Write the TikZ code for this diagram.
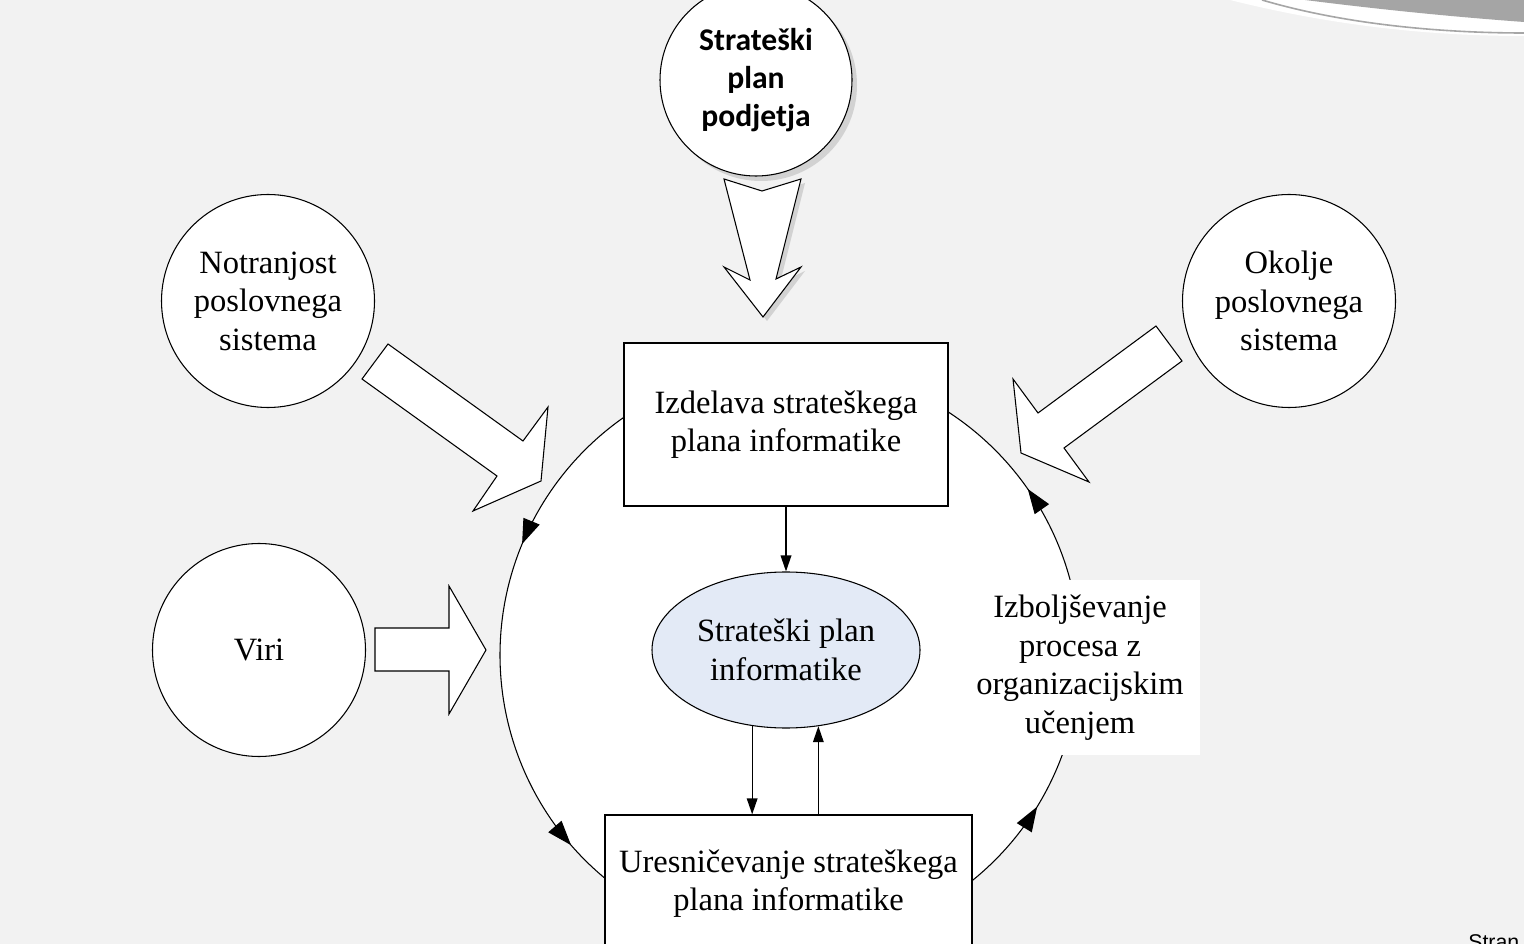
\documentclass[tikz,border=0pt]{standalone}
\usepackage{fontspec}
\setmainfont{Liberation Serif}
\newfontfamily\calfont{Carlito}
\newfontfamily\arialfont{Liberation Sans}
\usetikzlibrary{shapes.geometric,arrows.meta,decorations.markings,calc}
\definecolor{bg}{RGB}{242,242,242}
\definecolor{ellfill}{RGB}{227,234,246}
\definecolor{swoosh}{RGB}{165,165,165}
\tikzset{cychead/.tip={Triangle[length=18.5pt,width=13pt]}}
\begin{document}
\begin{tikzpicture}[x=0.75pt,y=-0.75pt,
  txt/.style={font=\fontsize{24.4}{28.9}\selectfont, align=center},
  boxnode/.style={draw=black, line width=1pt, fill=white, txt, inner sep=0pt},
  circnode/.style={circle, draw=black, line width=0.8pt, fill=white, minimum size=213*0.75pt, inner sep=0pt, txt},
  blockarrow/.style={draw=black, line width=0.8pt, fill=white, line join=miter},
  conn/.style={draw=black, line width=1pt, -{Triangle[length=12pt,width=8pt]}},
  cyc/.style={draw=black, line width=0.8pt, postaction=decorate}
]
\path[use as bounding box] (0,0) rectangle (1524,944);
\fill[bg] (0,0) rectangle (1524,944);
% top-right swoosh
\fill[white] (1230,0) .. controls (1350,30) and (1450,36) .. (1524,36) -- (1524,0) -- cycle;
\fill[swoosh] (1305,0) .. controls (1400,12) and (1470,18) .. (1524,22) -- (1524,0) -- cycle;
\draw[gray!70, line width=1.2pt] (1262,0) .. controls (1350,26) and (1450,33) .. (1524,33);

% big cycle
\fill[white] (790,655) circle[radius=290];
\draw[cyc, decoration={markings,
   mark=at position 0.326 with {\arrow{cychead}},
   mark=at position 0.878 with {\arrow{cychead}}}]
  (790,655) ++(240:290) arc[start angle=240, end angle=125, radius=290];
\draw[cyc, decoration={markings,
   mark=at position 0.204 with {\arrow{cychead}},
   mark=at position 0.782 with {\arrow{cychead}}}]
  (790,655) ++(55:290) arc[start angle=55, end angle=-60, radius=290];

% boxes
\node[boxnode, minimum width=324*0.75pt, minimum height=163*0.75pt] (izd) at (786,424.5)
  {Izdelava strateškega\\plana informatike};
\node[boxnode, minimum width=367*0.75pt, minimum height=137*0.75pt] (ure) at (788.5,883.5)
  {Uresničevanje strateškega\\plana informatike};
\node[ellipse, draw=black, line width=0.8pt, fill=ellfill, txt, inner sep=0pt,
  minimum width=268*0.75pt, minimum height=156*0.75pt] (spi) at (786,650)
  {Strateški plan\\informatike};
\node[fill=white, txt, inner sep=0pt, minimum width=240*0.75pt, minimum height=175*0.75pt]
  (lbl) at (1080,667.5) {Izboljševanje\\procesa z\\organizacijskim\\učenjem};

% connectors
\draw[conn] (izd.south) -- (spi.north);
\draw[conn] (spi.246.4) -- (spi.246.4 |- ure.north);
\draw[conn] (spi.293 |- ure.north) -- (spi.293);

% outer circles
\fill[gray!35] (761,85) circle[radius=96];
\node[circle, draw=black, line width=0.8pt, fill=white, minimum size=192*0.75pt, inner sep=0pt,
  align=center, font=\calfont\bfseries\fontsize{23.7}{28.5}\selectfont] (pod) at (756,80)
  {Strateški\\plan\\podjetja};
\node[circnode] (not) at (268,301) {Notranjost\\poslovnega\\sistema};
\node[circnode] (oko) at (1289,301) {Okolje\\poslovnega\\sistema};
\node[circnode] (viri) at (259,650) {Viri};

% block arrows
\fill[gray!35, shift={(4,4)}] (724,179) -- (762,191) -- (801,179) -- (776,279) -- (801,267)
  -- (763,317) -- (724,267) -- (750,280) -- cycle;
\draw[blockarrow] (724,179) -- (762,191) -- (801,179) -- (776,279) -- (801,267)
  -- (763,317) -- (724,267) -- (750,280) -- cycle;
\draw[blockarrow] (375,628) -- (449,628) -- (449,586) -- (486,650) -- (449,714)
  -- (449,671) -- (375,671) -- cycle;
\draw[blockarrow] (388,344) -- (523,441) -- (548,407) -- (541,481) -- (473,511)
  -- (497,476) -- (362,379) -- cycle;
\draw[blockarrow] (1156,326) -- (1182,361) -- (1064,448) -- (1089,482) -- (1021,453)
  -- (1013,379) -- (1038,413) -- cycle;

\node[font=\arialfont\fontsize{16}{18}\selectfont, anchor=base west, inner sep=0pt] (stran)
  at (1468,949) {Stran};
\end{tikzpicture}
\end{document}
